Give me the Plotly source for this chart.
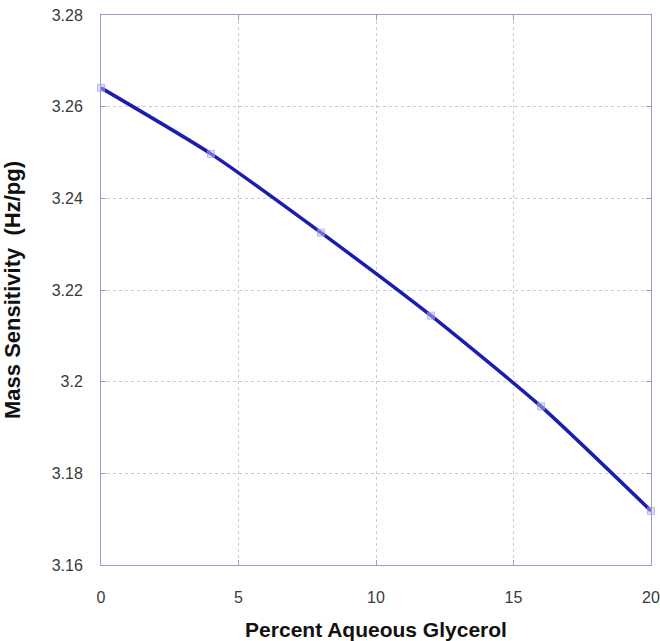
import plotly.graph_objects as go

glycerol_pct = [0, 4, 8, 12, 16, 20]
sensitivity = [3.2641, 3.2497, 3.2325, 3.2144, 3.1946, 3.1718]

x_ticks = [0, 5, 10, 15, 20]
y_ticks = [3.16, 3.18, 3.20, 3.22, 3.24, 3.26, 3.28]
y_tick_labels = ["3.16", "3.18", "3.2", "3.22", "3.24", "3.26", "3.28"]

fig = go.Figure()
fig.add_trace(go.Scatter(
    x=glycerol_pct, y=sensitivity, mode="lines+markers",
    line=dict(color="#1c1cb0", width=3.5, shape="spline", smoothing=0.6),
    marker=dict(symbol="square", size=7, color="rgba(190,190,245,0.5)",
                line=dict(color="rgba(150,150,235,0.6)", width=1)),
    showlegend=False,
    cliponaxis=False,
))

axis_common = dict(
    showline=True, linecolor="#9a9ad0", linewidth=1, mirror="ticks",
    ticks="inside", ticklen=5, tickcolor="#9a9ad0",
    showgrid=True, gridcolor="#c8c8e0", griddash="dot", gridwidth=1,
    zeroline=False, automargin=False, ticklabeloverflow="allow",
    tickfont=dict(family="Liberation Sans, Arial", size=16, color="#3a3a3a"),
)

fig.update_layout(
    width=660, height=641,
    paper_bgcolor="white", plot_bgcolor="white",
    margin=dict(l=101, r=9, t=15, b=76),
    xaxis=dict(range=[0, 20], tickvals=x_ticks, ticklabelstandoff=18,
               title=dict(text="<b>Percent Aqueous Glycerol</b>", standoff=22,
                          font=dict(family="Liberation Sans, Arial", size=21, color="#111111")),
               **axis_common),
    yaxis=dict(range=[3.16, 3.28], tickvals=y_ticks, ticktext=y_tick_labels,
               ticklabelstandoff=14,
               title=dict(text="<b>Mass Sensitivity  (Hz/pg)</b>", standoff=29,
                          font=dict(family="Liberation Sans, Arial", size=22, color="#111111")),
               **axis_common),
)

fig.write_html(
    "out.html",
    config={"displayModeBar": False},
    post_script="document.body.style.margin='0';document.body.style.overflow='hidden';",
)
